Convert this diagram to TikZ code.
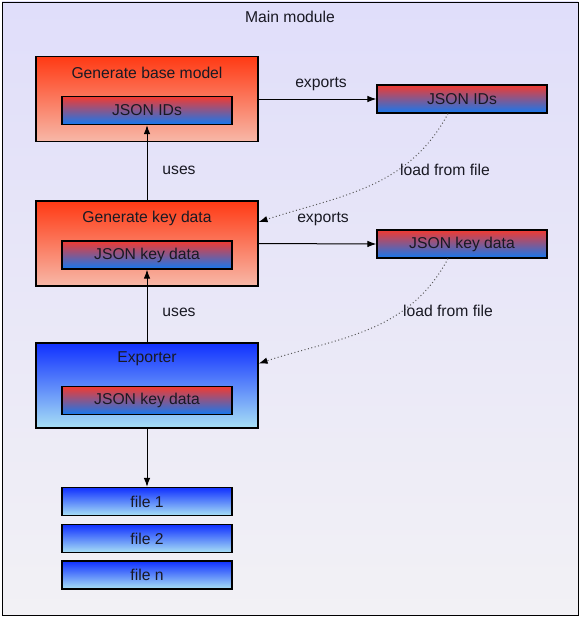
\documentclass[tikz,border=0pt]{standalone}
\usepackage{fontspec}
\setmainfont{Liberation Sans}
\usetikzlibrary{arrows.meta,calc}
\definecolor{bgtop}{RGB}{224,222,250}
\definecolor{bgbot}{RGB}{242,241,245}
\definecolor{redtop}{RGB}{255,58,20}
\definecolor{redbot}{RGB}{247,184,168}
\definecolor{bluetop}{RGB}{16,48,255}
\definecolor{bluebot}{RGB}{168,224,245}
\definecolor{intop}{RGB}{242,58,48}
\definecolor{inbot}{RGB}{20,120,240}
\definecolor{txt}{RGB}{25,25,35}
\begin{document}
\begin{tikzpicture}[x=1pt,y=1pt,
  every node/.style={font=\fontsize{15.7}{18}\selectfont, text=txt},
  bigred/.style={draw=black, line width=1.2pt, top color=redtop, bottom color=redbot, minimum width=222pt, minimum height=85pt, inner sep=0pt},
  bigblue/.style={draw=black, line width=1.2pt, top color=bluetop, bottom color=bluebot, minimum width=222pt, minimum height=85pt, inner sep=0pt},
  inbox/.style={draw=black, line width=1.2pt, top color=intop, bottom color=inbot, minimum width=170pt, minimum height=28pt, inner sep=0pt},
  filebox/.style={draw=black, line width=1.2pt, top color=bluetop, bottom color=bluebot, minimum width=170pt, minimum height=28pt, inner sep=0pt},
  arr/.style={line width=1pt, -{Latex[length=9pt,width=6.5pt]}},
  dots/.style={gray!70!black, line width=1pt, dash pattern=on 1pt off 2.5pt, -{Latex[length=9pt,width=6.5pt,fill=black,color=black]}},
  lbl/.style={inner sep=0pt}
]
\useasboundingbox (0,0) rectangle (581,-618);
\draw[black, line width=0.9pt, top color=bgtop, bottom color=bgbot] (2,-2) rectangle (578,-615);
\node[lbl] (title) at (290,-17) {Main module};

% left column
\node[bigred] (gbm) at (147,-99) {};
\node[lbl] (gbmt) at (147,-72.5) {Generate base model};
\node[inbox] (ids) at (147,-110.5) {JSON IDs};

\node[bigred] (gkd) at (147,-243.5) {};
\node[lbl] (gkdt) at (147,-218) {Generate key data};
\node[inbox] (kd) at (147,-255) {JSON key data};

\node[bigblue] (exp) at (147,-385.5) {};
\node[lbl] (expt) at (147,-358.5) {Exporter};
\node[inbox] (ekd) at (147,-400.5) {JSON key data};

\node[filebox] (f1) at (147,-501.5) {file 1};
\node[filebox] (f2) at (147,-538.5) {file 2};
\node[filebox] (fn) at (147,-575) {file n};

% right column
\node[inbox] (rids) at (462,-99) {JSON IDs};
\node[inbox] (rkd) at (462,-244) {JSON key data};

% connectors
\draw[arr] (gbm.east) -- (rids.west);
\node[lbl] (ex1) at (321,-84) {exports};
\draw[arr] (gkd.east) -- (rkd.west);
\node[lbl] (ex2) at (323,-219.5) {exports};

\draw[arr] (gkd.north) -- (ids.south);
\node[lbl] (u1) at (179,-170.5) {uses};
\draw[arr] (exp.north) -- (kd.south);
\node[lbl] (u2) at (179,-312.5) {uses};
\draw[arr] (exp.south) -- (f1.north);

\coordinate (s1) at ($(rids.south)+(-14,0)$);
\coordinate (e1) at ($(gkd.east)+(0,21.5)$);
\draw[dots] (s1) to[out=-118,in=18] (e1);
\node[lbl] (l1) at (445,-170) {load from file};
\coordinate (s2) at ($(rkd.south)+(-14,0)$);
\coordinate (e2) at ($(exp.east)+(0,22)$);
\draw[dots] (s2) to[out=-118,in=18] (e2);
\node[lbl] (l2) at (448,-311) {load from file};
\end{tikzpicture}
\end{document}
